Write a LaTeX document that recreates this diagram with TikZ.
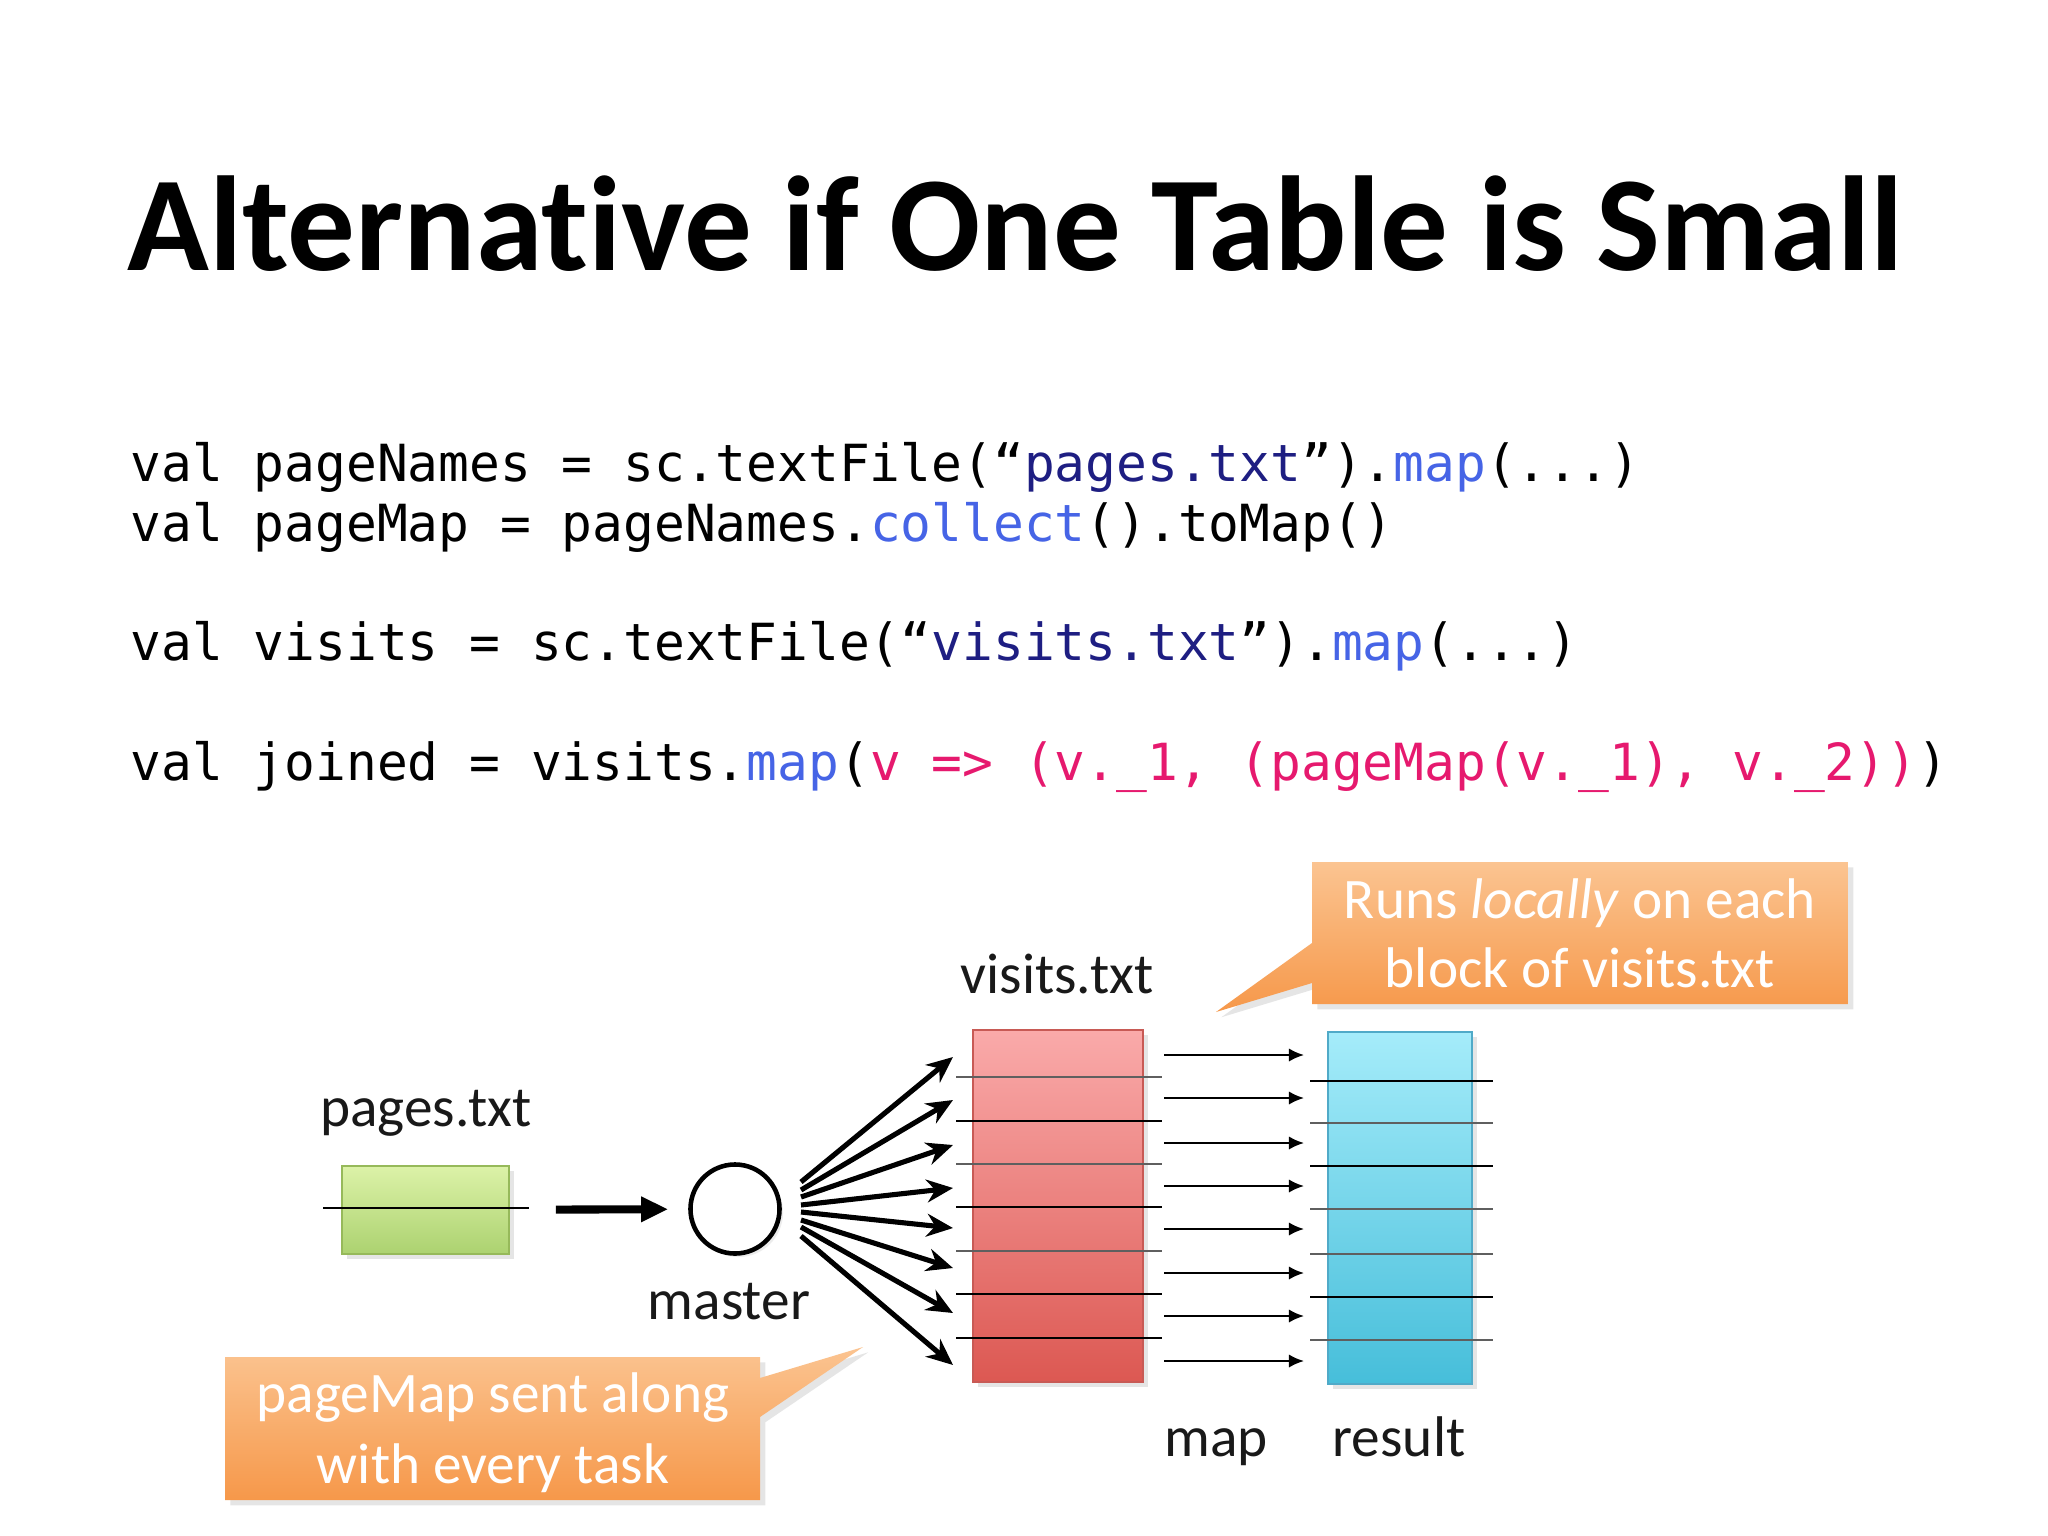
\documentclass[tikz,border=0pt]{standalone}
\usepackage{fontspec}
\setmainfont{Carlito}[Ligatures={TeX,NoCommon}]
\newfontfamily\codefont{DejaVu Sans Mono}
\usetikzlibrary{arrows.meta,shadows}
\definecolor{navy}{RGB}{30,30,130}
\definecolor{kwblue}{RGB}{70,100,230}
\definecolor{lampink}{RGB}{230,25,110}
\definecolor{redtop}{RGB}{250,170,170}
\definecolor{redbot}{RGB}{220,88,82}
\definecolor{redborder}{RGB}{200,90,85}
\definecolor{bluetop}{RGB}{165,236,250}
\definecolor{bluebot}{RGB}{70,190,218}
\definecolor{blueborder}{RGB}{80,170,200}
\definecolor{greentop}{RGB}{220,242,168}
\definecolor{greenbot}{RGB}{172,210,112}
\definecolor{greenborder}{RGB}{150,185,90}
\definecolor{orangetop}{RGB}{251,196,145}
\definecolor{orangebot}{RGB}{246,152,74}
\definecolor{stripegray}{RGB}{95,95,95}
\tikzset{
  lbl/.style={font=\fontsize{16.3}{18}\selectfont, text=black!90, inner sep=0, anchor=base},
  wlbl/.style={font=\fontsize{16.3}{18}\selectfont, text=white, inner sep=0, anchor=base},
  codeline/.style={font=\codefont\fontsize{14.55}{16}\selectfont, inner sep=0, anchor=base west},
  block/.style={rectangle, inner sep=0, line width=0.5pt, drop shadow={opacity=0.2, shadow xshift=1.5pt, shadow yshift=-1.5pt}},
  callout/.style={top color=orangetop, bottom color=orangebot, draw=none, drop shadow={opacity=0.2, shadow xshift=1.5pt, shadow yshift=-1.5pt}},
  stripe/.style={line width=0.65pt},
  fan/.style={line width=1.45pt, -{Stealth[length=7.5pt,width=6.5pt]}},
  maparrow/.style={line width=0.6pt, -{Latex[length=4.3pt,width=3.8pt]}},
  bigarrow/.style={line width=2.3pt, -{Triangle[length=7.7pt,width=6.8pt]}}
}
\begin{document}
\begin{tikzpicture}[x=0.01cm,y=-0.01cm]
\useasboundingbox (0,0) rectangle (2048,1536);
\fill[white] (0,0) rectangle (2048,1536);

% title
\node[anchor=base west, inner sep=0, font=\fontsize{38.4}{42}\selectfont\bfseries] (title) at (127,270) {Alternative if One Table is Small};

% code
\node[codeline] (c1) at (130,481) {val pageNames = sc.textFile(“\textcolor{navy}{pages.txt}”).\textcolor{kwblue}{map}(...)};
\node[codeline] (c2) at (130,541) {val pageMap = pageNames.\textcolor{kwblue}{collect}().toMap()};
\node[codeline] (c3) at (130,660) {val visits = sc.textFile(“\textcolor{navy}{visits.txt}”).\textcolor{kwblue}{map}(...)};
\node[codeline] (c4) at (130,780) {val joined = visits.\textcolor{kwblue}{map}(\textcolor{lampink}{v => (v.\_1, (pageMap(v.\_1), v.\_2))})};

% pages.txt
\node[block, draw=greenborder, top color=greentop, bottom color=greenbot, minimum width=1.67cm, minimum height=0.88cm] (g) at (425.5,1210) {};
\draw[stripe] (323,1208) -- (529,1208);
\node[lbl] (pl) at (426,1126) {pages.txt};

% master
\node[circle, draw=black, line width=1.3pt, fill=white, minimum size=0.89cm, inner sep=0, drop shadow={opacity=0.15, shadow xshift=1pt, shadow yshift=-1pt}] (m) at (735,1209) {};
\node[lbl] (ml) at (729,1319) {master};
\draw[bigarrow, shorten <=0.46cm, shorten >=0.2cm] (g) -- (m);

% visits.txt
\node[block, draw=redborder, top color=redtop, bottom color=redbot, minimum width=1.70cm, minimum height=3.52cm] (v) at (1058,1206) {};
\node[lbl] (vl) at (1057,993) {visits.txt};
\foreach \y/\c in {1077/stripegray,1121/black,1164/stripegray,1207/black,1251/stripegray,1294/black,1338/black}
  \draw[stripe, draw=\c] (956,\y) -- (1162,\y);

% result
\node[block, draw=blueborder, top color=bluetop, bottom color=bluebot, minimum width=1.44cm, minimum height=3.52cm] (r) at (1400,1208) {};
\node[lbl] (rl) at (1399,1456) {result};
\node[lbl] (mapl) at (1216,1456) {map};
\foreach \y/\c in {1081/black,1123/stripegray,1166/black,1209/stripegray,1254/stripegray,1297/black,1340/stripegray}
  \draw[stripe, draw=\c] (1310,\y) -- (1493,\y);

% fan arrows from master
\foreach \i/\sy/\ty in {1/1182/1057,2/1190/1100,3/1197/1145,4/1205/1188,5/1212/1228,6/1220/1268,7/1227/1313,8/1236/1365} {
  \coordinate (s\i) at (801,\sy);
  \coordinate (t\i) at (953,\ty);
  \draw[fan] (s\i) -- (t\i);
}

% map arrows
\foreach \i/\y in {1/1055,2/1098,3/1143,4/1186,5/1229,6/1273,7/1316,8/1361} {
  \coordinate (ma\i) at (1164,\y);
  \coordinate (mb\i) at (1304,\y);
  \draw[maparrow] (ma\i) -- (mb\i);
}

% callout top right
\path[callout] (1312,862) -- (1848,862) -- (1848,1004) -- (1312,1004) -- (1312,983) -- (1216,1012) -- (1312,943) -- cycle;
\node[wlbl] (co1a) at (1580,918) {Runs \textit{locally} on each};
\node[wlbl] (co1b) at (1580,987) {block of visits.txt};

% callout bottom left
\path[callout] (225,1357) -- (760,1357) -- (760,1378) -- (863,1347) -- (760,1417) -- (760,1500) -- (225,1500) -- cycle;
\node[wlbl] (co2a) at (493,1412) {pageMap sent along};
\node[wlbl] (co2b) at (493,1483) {with every task};
\end{tikzpicture}
\end{document}
